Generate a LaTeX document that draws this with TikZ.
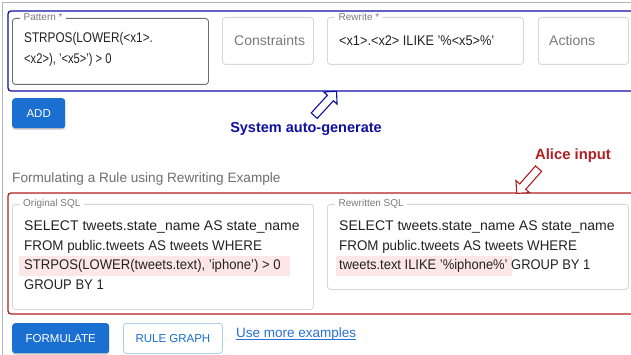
\documentclass[tikz,border=0pt]{standalone}
\usepackage{fontspec}
\setmainfont{Liberation Sans}
\usetikzlibrary{shapes.arrows}
\definecolor{inktext}{HTML}{222222}
\definecolor{labelgray}{HTML}{7A7A7A}
\definecolor{lightborder}{HTML}{D6D6D6}
\definecolor{darkborder}{HTML}{6E6E6E}
\definecolor{framegray}{HTML}{B4B4B4}
\definecolor{navy}{HTML}{1010A0}
\definecolor{darkred}{HTML}{B02020}
\definecolor{btnblue}{HTML}{1A6FD0}
\definecolor{linkblue}{HTML}{2A6FD6}
\definecolor{hlpink}{HTML}{FCE6E6}
\begin{document}
\begin{tikzpicture}[x=1pt,y=-1pt,
  field/.style={draw=lightborder,line width=0.8pt,rounded corners=3pt,anchor=north west,inner sep=0pt,fill=white},
  fieldlabel/.style={anchor=west,inner xsep=3.5pt,inner ysep=1pt,fill=white,text=labelgray,font=\fontsize{10}{11}\selectfont},
  sqltext/.style={anchor=west,inner sep=0pt,text=inktext,font=\fontsize{14}{16}\selectfont},
  hint/.style={anchor=west,inner sep=0pt,text=labelgray,font=\fontsize{14}{16}\selectfont},
  filledbtn/.style={fill=btnblue,rounded corners=3pt,anchor=north west,inner sep=0pt,text=white,font=\fontsize{11.5}{13}\selectfont},
  outlinebtn/.style={draw=btnblue!35,line width=0.8pt,fill=white,rounded corners=3pt,anchor=north west,inner sep=0pt,text=btnblue,font=\fontsize{11.5}{13}\selectfont},
  btnshadow/.style={fill=black!22,rounded corners=3pt,anchor=north west,inner sep=0pt},
  hollowarrow/.style={single arrow,draw,line width=1.1pt,fill=white,inner xsep=0pt,inner ysep=3.5pt,single arrow head extend=5pt,single arrow head indent=0pt,minimum height=33pt,single arrow tip angle=90},
  hlband/.style={fill=hlpink,anchor=north west,inner sep=0pt}
]
\useasboundingbox (0,0) rectangle (631,355);
\fill[white] (0,0) rectangle (631,355);

% page frame
\draw[framegray,line width=1.2pt] (2.5,356) -- (2.5,2.5) -- (632,2.5);

% rule fields group (blue)
\draw[navy,line width=1.3pt,rounded corners=3pt] (635,11) -- (8,11) -- (8,91) -- (635,91);

\node[draw=darkborder,line width=0.9pt,rounded corners=3pt,anchor=north west,inner sep=0pt,minimum width=196pt,minimum height=66pt] (pattern) at (12,18) {};
\node[fieldlabel] (patternlbl) at (20,17.5) {Pattern *};
\node[sqltext,xscale=0.84] (pat1) at (24,39) {STRPOS(LOWER(<x1>.};
\node[sqltext,xscale=0.8] (pat2) at (24,60) {<x2>), '<x5>') > 0};

\node[field,minimum width=91pt,minimum height=47pt] (constraints) at (222,17) {};
\node[hint] (constrtxt) at (234,40.5) {Constraints};

\node[field,minimum width=196pt,minimum height=47pt] (rewrite) at (327,17) {};
\node[fieldlabel] (rewritelbl) at (335,16.5) {Rewrite *};
\node[sqltext,xscale=0.91] (rw1) at (339,40.5) {<x1>.<x2> ILIKE '\%<x5>\%'};

\node[field,minimum width=90pt,minimum height=47pt] (actions) at (538,17) {};
\node[hint] (actionstxt) at (549,40.5) {Actions};

\node[btnshadow,minimum width=53pt,minimum height=30pt] (addshadow) at (12,99.5) {};
\node[filledbtn,minimum width=53pt,minimum height=30pt] (add) at (12,98) {ADD};

% system annotation
\node[hollowarrow,draw=navy,rotate=47.5] (sysarrow) at (324,105) {};
\node[anchor=center,inner sep=0pt,text=navy,font=\bfseries\fontsize{14.5}{16}\selectfont] (system) at (306,129) {System auto-generate};

% example section
\node[anchor=west,inner sep=0pt,text=labelgray!90!black,font=\fontsize{13.6}{15}\selectfont] (heading) at (12,179) {Formulating a Rule using Rewriting Example};

\draw[darkred,line width=1.3pt,rounded corners=3pt] (635,193) -- (8,193) -- (8,314) -- (635,314);

\node[field,minimum width=301pt,minimum height=105pt] (orig) at (12,204) {};
\node[fieldlabel] (origlbl) at (19.5,204) {Original SQL};
\node[hlband,minimum width=271pt,minimum height=20pt] (orighl) at (19,256) {};
\node[sqltext] (o1) at (24,227) {SELECT tweets.state\_name AS state\_name};
\node[sqltext,xscale=0.955] (o2) at (24,246.5) {FROM public.tweets AS tweets WHERE};
\node[sqltext,xscale=0.935] (o3) at (24,266) {STRPOS(LOWER(tweets.text), 'iphone') > 0};
\node[sqltext,xscale=0.93] (o4) at (24,285) {GROUP BY 1};

\node[field,minimum width=301pt,minimum height=85pt] (rewritten) at (327,204) {};
\node[fieldlabel] (rwlbl) at (335,204) {Rewritten SQL};
\node[hlband,minimum width=176pt,minimum height=20pt] (rwhl) at (336,256) {};
\node[sqltext] (r1) at (339,227) {SELECT tweets.state\_name AS state\_name};
\node[sqltext,xscale=0.955] (r2) at (339,246.5) {FROM public.tweets AS tweets WHERE};
\node[sqltext,xscale=0.925] (r3) at (339,266) {tweets.text ILIKE '\%iphone\%' GROUP BY 1};

% user annotation
\node[anchor=center,inner sep=0pt,text=darkred,font=\bfseries\fontsize{14.8}{16}\selectfont] (alice) at (573,156) {Alice input};
\node[hollowarrow,draw=darkred,rotate=228.6] (alicearrow) at (529,179.5) {};

% buttons
\node[btnshadow,minimum width=97pt,minimum height=30pt] (formshadow) at (12,324.5) {};
\node[filledbtn,minimum width=97pt,minimum height=30pt] (formulate) at (12,323) {FORMULATE};
\node[outlinebtn,minimum width=99pt,minimum height=30pt] (rulegraph) at (123,323) {RULE GRAPH};
\node[anchor=base west,inner sep=0pt,text=linkblue,font=\fontsize{13.5}{15}\selectfont] (more) at (236,337.5) {Use more examples};
\draw[linkblue,line width=0.8pt] ([yshift=-2pt]more.base west) -- ([yshift=-2pt]more.base east);
\end{tikzpicture}
\end{document}
